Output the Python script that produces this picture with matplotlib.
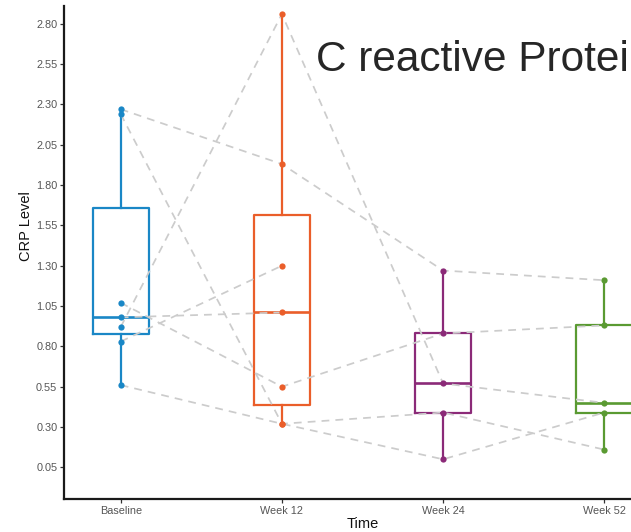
import numpy as np
import matplotlib
matplotlib.use('Agg')
import matplotlib.pyplot as plt

nan = np.nan

# CRP per subject at each visit (NaN = no sample)
times = ['Baseline', 'Week 12', 'Week 24', 'Week 52']
baseline = [2.27, 2.24, 1.07, 0.98, 0.92, 0.83, 0.56]
week12 = [1.93, 0.32, 0.55, 1.01, 2.86, 1.30, 0.32]
week24 = [1.27, 0.39, 0.88, nan, 0.57, nan, 0.10]
week52 = [1.21, 0.16, 0.93, nan, 0.45, nan, 0.39]
colors = ['#1a87c6', '#ea5e2a', '#8b2a78', '#5a9a32']
yticks = [0.05, 0.30, 0.55, 0.80, 1.05, 1.30, 1.55, 1.80, 2.05, 2.30, 2.55, 2.80]

plt.rcParams['font.family'] = ['Liberation Sans', 'DejaVu Sans']

W, H = 631, 532
x0, x1, y0, y1 = 64.3, 660.7, 6.0, 499.3
fig = plt.figure(figsize=(W / 100, H / 100), dpi=100)
# panel runs past the right edge of the figure
ax = fig.add_axes([x0 / W, 1 - y1 / H, (x1 - x0) / W, (y1 - y0) / H])

groups = [baseline, week12, week24, week52]
pos = np.arange(1, len(times) + 1)

for i, (vals, c) in enumerate(zip(groups, colors)):
    v = np.array(vals)
    v = v[~np.isnan(v)]
    ax.boxplot(v, positions=[pos[i]], widths=0.35, whis=1.5, showfliers=False,
               showcaps=False, patch_artist=False, manage_ticks=False,
               boxprops=dict(color=c, linewidth=1.6),
               medianprops=dict(color=c, linewidth=1.9),
               whiskerprops=dict(color=c, linewidth=1.6),
               zorder=2)

# subject trajectories
subj = np.array(groups).T
for row in subj:
    ax.plot(pos, row, color='#cccccc', lw=1.25, dashes=(4.5, 3.5), zorder=3)

for i, (vals, c) in enumerate(zip(groups, colors)):
    ax.plot(np.full(len(vals), pos[i]), vals, 'o', color=c, ms=4.5,
            mec='none', zorder=4)

ax.set_xlim(0.65, 4.35)
ax.set_ylim(-0.148, 2.91)
ax.set_xticks(pos)
ax.set_xticklabels(times)
ax.set_yticks(yticks)
ax.set_yticklabels(['%.2f' % t for t in yticks])
ax.tick_params(labelsize=7.8, labelcolor='#555555', color='#333333',
               length=3, width=0.9, pad=2)

for s in ['top', 'right']:
    ax.spines[s].set_visible(False)
for s in ['left', 'bottom']:
    ax.spines[s].set_linewidth(1.6)
    ax.spines[s].set_color('#1a1a1a')

ax.set_xlabel('Time', fontsize=10.5, color='#111111')
ax.set_ylabel('CRP Level', fontsize=10.5, color='#111111')
ax.yaxis.set_label_coords(-(x0 - 33) / (x1 - x0), (y1 - 226) / (y1 - y0))
ax.xaxis.set_label_coords((363 - x0) / (x1 - x0), -(524 - y1) / (y1 - y0))
ax.xaxis.label.set_va('center')

fig.text(316.5 / W, 1 - 70.7 / H, 'C reactive Protein', fontsize=30.5,
         color='#262626', va='baseline', ha='left')

fig.savefig('out.png', dpi=100)
